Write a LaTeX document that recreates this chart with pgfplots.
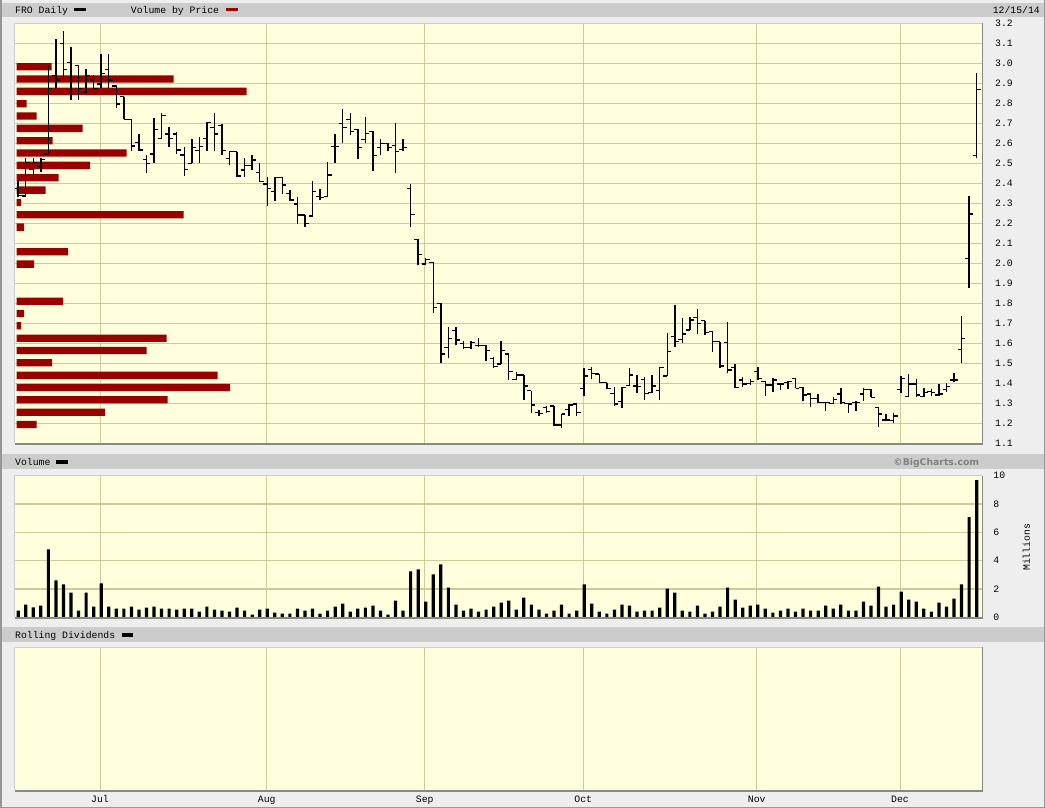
\documentclass[border=0pt]{standalone}
\usepackage{pgfplots}
\pgfplotsset{compat=1.18}
\usepackage{pgfplotstable}
\usepackage{fontspec}
\setmainfont{Liberation Mono}
\newfontfamily\bcfont{DejaVu Sans}
\definecolor{bgc}{RGB}{238,238,238}
\definecolor{hdr}{RGB}{204,204,204}
\definecolor{plotbg}{RGB}{255,255,222}
\definecolor{gridc}{RGB}{204,204,153}
\definecolor{vbpred}{RGB}{153,0,0}
\definecolor{shadow}{RGB}{136,136,136}
\definecolor{lightb}{RGB}{205,205,205}
\definecolor{frame}{RGB}{150,150,150}
\newcommand{\pix}{\fontsize{9.8}{10}\selectfont}

% trading-day index, open, high, low, close
\pgfplotstableread{
i o h l c
0 2.375 2.41 2.33 2.34
1 2.336 2.525 2.333 2.503
2 2.47 2.525 2.44 2.503
3 2.483 2.525 2.458 2.52
4 2.546 2.99 2.546 2.875
5 2.94 3.12 2.875 2.916
6 3.10 3.16 2.913 2.97
7 3.005 3.08 2.816 2.91
8 2.99 2.99 2.816 2.875
9 2.853 2.97 2.853 2.94
10 2.916 2.94 2.858 2.875
11 2.896 3.046 2.875 2.95
12 2.97 3.046 2.875 2.916
13 2.886 2.89 2.775 2.796
14 2.833 2.833 2.72 2.72
15 2.72 2.72 2.563 2.586
16 2.603 2.646 2.563 2.566
17 2.52 2.541 2.45 2.50
18 2.546 2.725 2.503 2.67
19 2.625 2.753 2.625 2.738
20 2.646 2.68 2.58 2.625
21 2.646 2.658 2.546 2.566
22 2.541 2.583 2.437 2.47
23 2.50 2.62 2.50 2.58
24 2.563 2.63 2.503 2.583
25 2.625 2.708 2.563 2.703
26 2.68 2.75 2.563 2.646
27 2.69 2.696 2.541 2.563
28 2.525 2.563 2.49 2.558
29 2.558 2.558 2.433 2.437
30 2.466 2.525 2.43 2.49
31 2.49 2.541 2.466 2.516
32 2.453 2.503 2.408 2.408
33 2.396 2.433 2.286 2.375
34 2.358 2.43 2.313 2.43
35 2.43 2.43 2.346 2.391
36 2.35 2.366 2.313 2.316
37 2.296 2.33 2.196 2.241
38 2.241 2.241 2.183 2.20
39 2.236 2.413 2.236 2.358
40 2.333 2.37 2.316 2.33
41 2.333 2.508 2.333 2.441
42 2.583 2.646 2.503 2.583
43 2.70 2.77 2.603 2.68
44 2.72 2.75 2.64 2.66
45 2.67 2.67 2.52 2.58
46 2.62 2.73 2.60 2.65
47 2.66 2.66 2.46 2.54
48 2.58 2.62 2.54 2.60
49 2.60 2.60 2.56 2.58
50 2.59 2.70 2.45 2.56
51 2.57 2.62 2.56 2.58
52 2.375 2.395 2.18 2.245
53 2.12 2.12 1.99 2.045
54 1.996 2.025 1.99 2.02
55 2.005 2.005 1.75 1.78
56 1.80 1.80 1.50 1.546
57 1.58 1.683 1.525 1.625
58 1.663 1.683 1.59 1.616
59 1.60 1.61 1.57 1.58
60 1.58 1.61 1.57 1.603
61 1.59 1.625 1.583 1.59
62 1.59 1.59 1.51 1.563
63 1.525 1.533 1.475 1.483
64 1.496 1.61 1.496 1.563
65 1.546 1.546 1.416 1.458
66 1.42 1.458 1.416 1.441
67 1.441 1.441 1.316 1.386
68 1.363 1.363 1.253 1.291
69 1.253 1.266 1.236 1.25
70 1.28 1.286 1.253 1.258
71 1.286 1.286 1.186 1.191
72 1.191 1.246 1.175 1.246
73 1.27 1.296 1.236 1.291
74 1.296 1.296 1.236 1.253
75 1.375 1.475 1.336 1.436
76 1.47 1.483 1.42 1.45
77 1.446 1.446 1.403 1.403
78 1.403 1.403 1.37 1.375
79 1.35 1.38 1.286 1.296
80 1.308 1.383 1.275 1.38
81 1.39 1.475 1.386 1.441
82 1.386 1.441 1.35 1.383
83 1.42 1.433 1.316 1.35
84 1.353 1.441 1.35 1.386
85 1.363 1.483 1.316 1.48
86 1.436 1.653 1.436 1.558
87 1.633 1.79 1.583 1.608
88 1.62 1.725 1.60 1.646
89 1.667 1.733 1.667 1.717
90 1.73 1.77 1.647 1.70
91 1.713 1.713 1.64 1.653
92 1.658 1.658 1.558 1.608
93 1.608 1.608 1.475 1.486
94 1.603 1.705 1.45 1.466
95 1.48 1.497 1.375 1.38
96 1.416 1.433 1.383 1.396
97 1.40 1.42 1.392 1.408
98 1.458 1.48 1.417 1.425
99 1.408 1.413 1.337 1.391
100 1.391 1.425 1.358 1.416
101 1.396 1.40 1.367 1.396
102 1.403 1.413 1.37 1.408
103 1.425 1.425 1.375 1.375
104 1.38 1.38 1.313 1.341
105 1.346 1.35 1.283 1.325
106 1.325 1.347 1.30 1.303
107 1.303 1.303 1.263 1.303
108 1.30 1.33 1.296 1.32
109 1.346 1.375 1.296 1.303
110 1.30 1.30 1.253 1.296
111 1.303 1.313 1.263 1.303
112 1.346 1.375 1.313 1.37
113 1.37 1.37 1.33 1.33
114 1.28 1.28 1.18 1.246
115 1.216 1.246 1.213 1.216
116 1.213 1.253 1.203 1.236
117 1.37 1.437 1.35 1.425
118 1.333 1.447 1.33 1.396
119 1.396 1.42 1.33 1.341
120 1.333 1.375 1.33 1.353
121 1.358 1.37 1.336 1.353
122 1.341 1.397 1.336 1.346
123 1.37 1.40 1.358 1.383
124 1.416 1.453 1.408 1.416
125 1.57 1.736 1.503 1.625
126 2.025 2.337 1.875 2.246
127 2.54 2.95 2.525 2.87
}\ohlc

% volume in millions
\pgfplotstableread{
i v
0 0.47
1 0.9
2 0.71
3 0.83
4 4.8
5 2.6
6 2.32
7 1.75
8 0.47
9 1.75
10 0.76
11 2.39
12 0.76
13 0.61
14 0.61
15 0.76
16 0.54
17 0.69
18 0.76
19 0.61
20 0.61
21 0.54
22 0.61
23 0.61
24 0.4
25 0.76
26 0.54
27 0.47
28 0.4
29 0.69
30 0.47
31 0.19
32 0.54
33 0.61
34 0.33
35 0.26
36 0.26
37 0.61
38 0.47
39 0.61
40 0.26
41 0.47
42 0.76
43 0.97
44 0.4
45 0.61
46 0.69
47 0.83
48 0.47
49 0.19
50 1.18
51 0.47
52 3.24
53 3.38
54 1.11
55 3.03
56 3.73
57 2.1
58 0.9
59 0.47
60 0.61
61 0.4
62 0.54
63 0.76
64 1.04
65 1.18
66 0.54
67 1.39
68 0.9
69 0.54
70 0.26
71 0.47
72 0.9
73 0.26
74 0.47
75 2.32
76 0.97
77 0.4
78 0.26
79 0.54
80 0.9
81 0.83
82 0.4
83 0.47
84 0.47
85 0.69
86 2.03
87 1.75
88 0.47
89 0.4
90 0.83
91 0.26
92 0.4
93 0.76
94 2.1
95 1.25
96 0.69
97 0.83
98 0.9
99 0.61
100 0.33
101 0.47
102 0.61
103 0.4
104 0.61
105 0.47
106 0.47
107 0.83
108 0.61
109 0.9
110 0.47
111 0.47
112 1.11
113 0.83
114 2.17
115 0.76
116 0.9
117 1.82
118 1.25
119 1.11
120 0.61
121 0.4
122 1.04
123 0.76
124 1.32
125 2.32
126 7.07
127 9.69
}\vol

% volume by price: bar length (chart px) and price level
\pgfplotstableread{
len p
35 2.983
157 2.9215
230 2.8595
10 2.798
20 2.736
66 2.6745
36 2.613
110 2.551
73.3 2.4895
42 2.4275
29 2.366
4.3 2.3045
167 2.2425
7.3 2.181
51.3 2.0575
17.3 1.996
46.3 1.8105
7.3 1.749
4.3 1.6875
150 1.6255
130 1.564
35.3 1.5025
201 1.4405
213.3 1.379
151 1.3175
88.3 1.2555
20 1.194
}\vbp

\pgfplotsset{
  panel/.style={scale only axis, width=967.2pt, xmin=-0.49, xmax=127.67, anchor=south west},
  monthgrid/.style={xtick={10.87,32.87,53.87,74.87,97.87,116.87}, xticklabels={}},
  ohlcbar/.style={draw=none, mark=none, forget plot},
}

\begin{document}
\begin{tikzpicture}
\fill[bgc] (0,0) rectangle (1045pt,-808pt);
\fill[hdr] (1.7pt,-2.7pt) rectangle (1045pt,-16.7pt);
\fill[hdr] (1.7pt,-454pt) rectangle (1045pt,-469pt);
\fill[hdr] (1.7pt,-627.3pt) rectangle (1045pt,-642pt);

% ---------- price panel frame ----------
\begin{axis}[panel, at={(14.5pt,-443.3pt)}, height=420pt, ymin=1.1, ymax=3.2,
  axis background/.style={fill=plotbg}, axis line style={draw=none},
  monthgrid,
  ytick={1.1,1.2,1.3,1.4,1.5,1.6,1.7,1.8,1.9,2.0,2.1,2.2,2.3,2.4,2.5,2.6,2.7,2.8,2.9,3.0,3.1,3.2},
  grid=major, major grid style={draw=gridc, line width=1.2pt},
  tick style={draw=none}, yticklabel pos=right,
  yticklabel style={font=\pix, anchor=west, inner sep=0pt, xshift=13.3pt,
    /pgf/number format/.cd, fixed, fixed zerofill, precision=1, assume math mode=true}]
\addplot[draw=none, forget plot] coordinates {(0,2)};
\end{axis}

% ---------- volume by price ----------
\begin{axis}[scale only axis, width=967.2pt, height=420pt, anchor=south west,
  at={(14.5pt,-443.3pt)}, xmin=-2.2, xmax=965, ymin=1.1, ymax=3.2, hide axis]
\addplot[xbar, bar width=7.3pt, fill=vbpred, draw=none] table[x=len, y=p] \vbp;
\end{axis}

% ---------- OHLC bars ----------
\begin{axis}[panel, at={(14.5pt,-443.3pt)}, height=420pt, ymin=1.1, ymax=3.2, hide axis]
\addplot[ohlcbar,
  error bars/.cd, y dir=plus, y explicit, error mark=none,
  error bar style={draw=black, line width=1.45pt, line cap=butt}]
  table[x=i, y=l, y error plus expr=\thisrow{h}-\thisrow{l}] \ohlc;
\addplot[ohlcbar,
  error bars/.cd, x dir=minus, x fixed=0.52, error mark=none,
  error bar style={draw=black, line width=1.45pt, line cap=butt}]
  table[x=i, y=o] \ohlc;
\addplot[ohlcbar,
  error bars/.cd, x dir=plus, x fixed=0.52, error mark=none,
  error bar style={draw=black, line width=1.45pt, line cap=butt}]
  table[x=i, y=c] \ohlc;
\end{axis}

% ---------- volume panel ----------
\begin{axis}[panel, at={(14.5pt,-617.3pt)}, height=141.6pt, ymin=0, ymax=10,
  axis background/.style={fill=plotbg}, axis line style={draw=none},
  monthgrid, ytick={0,2,4,6,8,10},
  grid=major, major grid style={draw=gridc, line width=1.2pt},
  tick style={draw=none}, yticklabel pos=right,
  yticklabel style={font=\pix, anchor=west, inner sep=0pt, xshift=11.5pt,
    /pgf/number format/assume math mode=true}]
\addplot[ybar, bar width=3.2pt, fill=black, draw=none] table[x=i, y=v] \vol;
\end{axis}

% ---------- rolling dividends panel ----------
\begin{axis}[panel, at={(14.5pt,-790pt)}, height=143pt, ymin=0, ymax=1,
  axis background/.style={fill=plotbg}, axis line style={draw=none},
  monthgrid, ytick=\empty,
  xmajorgrids, major grid style={draw=gridc, line width=0.8pt},
  tick style={draw=none}]
\addplot[draw=none, forget plot] coordinates {(0,0.5)};
\end{axis}

% ---------- panel borders ----------
\foreach \t/\b in {23.3/443.3, 475.7/617.3, 647.3/790}{
  \draw[lightb, line width=1pt] (14.5pt,-\b pt) -- (14.5pt,-\t pt) -- (981.7pt,-\t pt);
  \draw[shadow, line width=1.6pt] (14.5pt,-\b pt-0.8pt) -- (982.5pt,-\b pt-0.8pt) -- (982.5pt,-\t pt);
}

% ---------- texts ----------
\node[anchor=base west, inner sep=0pt, font=\pix] at (15pt,-13.3pt) {FRO Daily};
\fill[black] (74pt,-8pt) rectangle (85.7pt,-11.3pt);
\node[anchor=base west, inner sep=0pt, font=\pix] at (130.7pt,-13.3pt) {Volume by Price};
\fill[vbpred] (226pt,-8pt) rectangle (237.5pt,-11.3pt);
\node[anchor=base east, inner sep=0pt, font=\pix] at (1040pt,-13.3pt) {12/15/14};

\node[anchor=base west, inner sep=0pt, font=\pix] at (15pt,-465.7pt) {Volume};
\fill[black] (55.7pt,-459.7pt) rectangle (67.7pt,-463.7pt);
\node[anchor=base east, inner sep=0pt, text=black!50, font=\bcfont\bfseries\fontsize{9.3}{10}\selectfont] at (979.3pt,-465.7pt) {©BigCharts.com};
\node[rotate=90, inner sep=0pt, font=\pix] at (1026.3pt,-547.3pt) {Millions};

\node[anchor=base west, inner sep=0pt, font=\pix] at (15pt,-638.5pt) {Rolling Dividends};
\fill[black] (122pt,-632.7pt) rectangle (133.3pt,-636.7pt);

\foreach \x/\m in {100/Jul, 266.7/Aug, 424.7/Sep, 583.3/Oct, 756.7/Nov, 900/Dec}{
  \node[anchor=base, inner sep=0pt, font=\pix] at (\x pt,-802.5pt) {\m};
}

% outer frame
\draw[frame, line width=1.5pt] (0.75pt,0pt) -- (0.75pt,-807.25pt) -- (1044.25pt,-807.25pt) -- (1044.25pt,0pt);

\pgfresetboundingbox
\path[use as bounding box] (0,0) rectangle (1045pt,-808pt);
\end{tikzpicture}
\end{document}
